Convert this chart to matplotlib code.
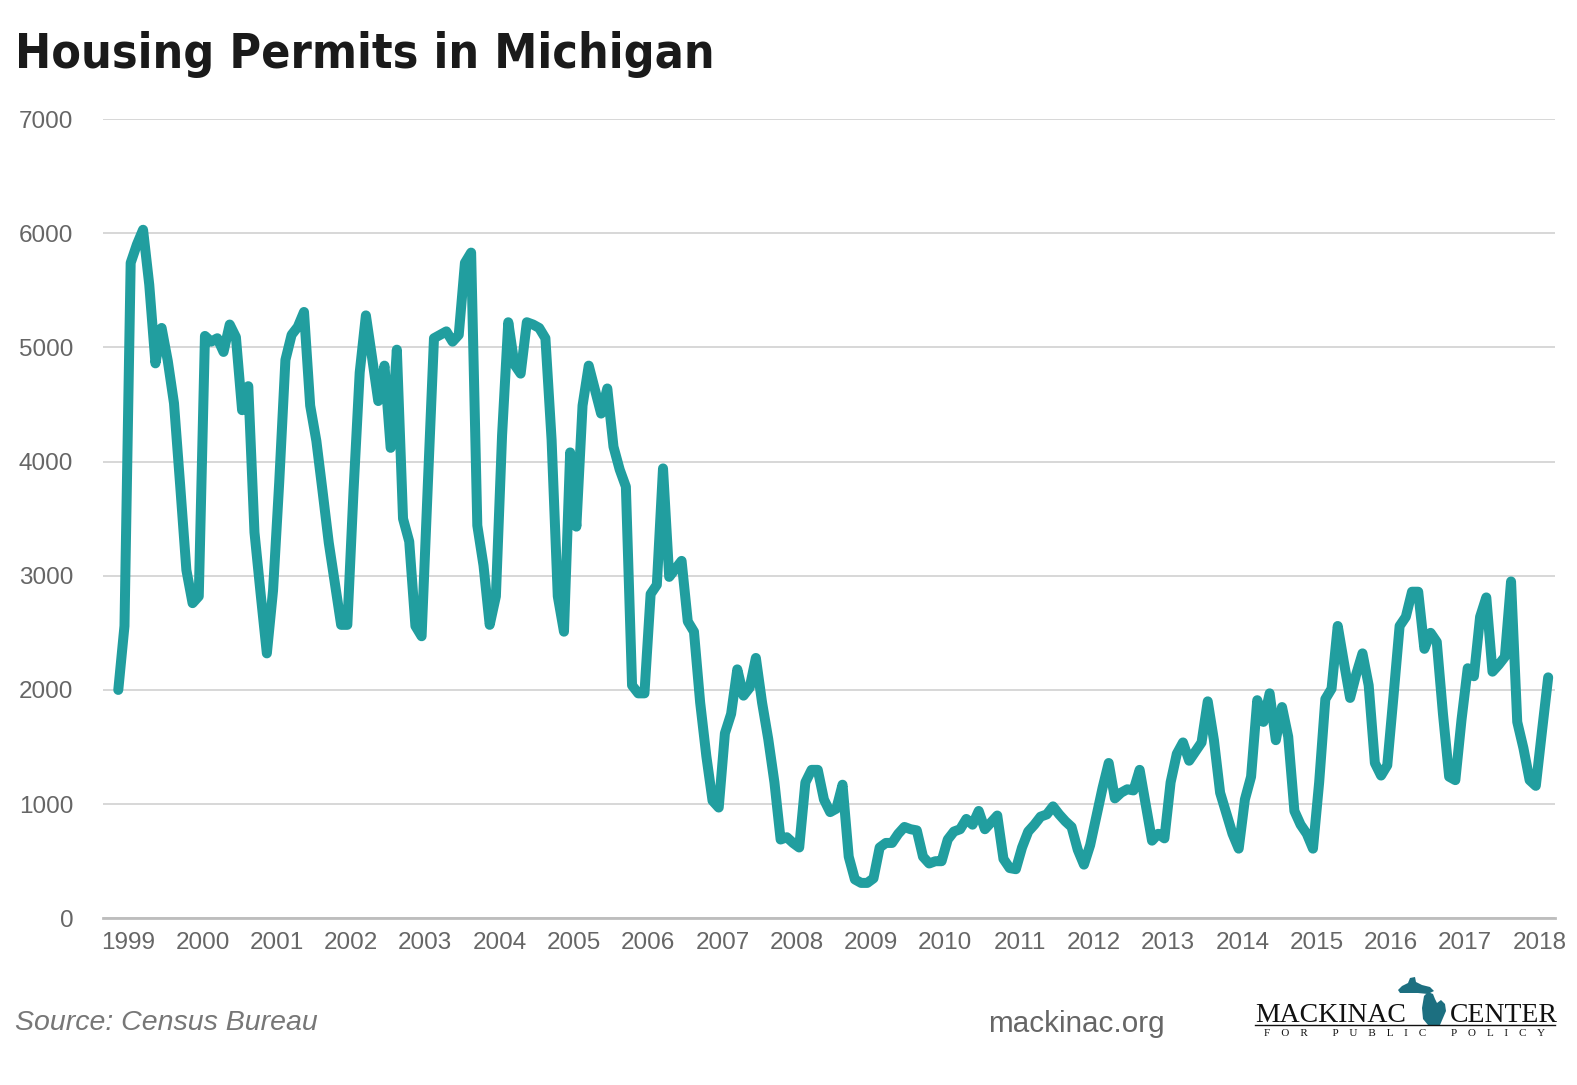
import numpy as np
import pandas as pd
import matplotlib
matplotlib.use('Agg')
import matplotlib.pyplot as plt
from matplotlib import font_manager
from matplotlib.patches import Polygon
from matplotlib.lines import Line2D

# Dados: licencas mensais (jan 1999 - abr 2018)
p1999 = [2000, 2560, 5740, 5900, 6030, 5550, 4860, 5170, 4880, 4510, 3790, 3050]
p2000 = [2760, 2820, 5100, 5050, 5080, 4960, 5200, 5090, 4450, 4660, 3380, 2840]
p2001 = [2320, 2870, 3820, 4890, 5110, 5180, 5310, 4490, 4180, 3740, 3290, 2930]
p2002 = [2570, 2570, 3740, 4780, 5280, 4910, 4530, 4840, 4120, 4980, 3500, 3300]
p2003 = [2560, 2470, 3790, 5080, 5110, 5140, 5050, 5110, 5740, 5830, 3440, 3090]
p2004 = [2570, 2820, 4230, 5220, 4850, 4770, 5220, 5200, 5170, 5080, 4190, 2820]
p2005 = [2510, 4080, 3430, 4490, 4840, 4630, 4420, 4640, 4130, 3930, 3780, 2040]
p2006 = [1970, 1970, 2840, 2920, 3940, 2990, 3060, 3130, 2600, 2510, 1890, 1420]
p2007 = [1030, 970, 1620, 1790, 2180, 1950, 2020, 2280, 1890, 1570, 1190, 690]
p2008 = [710, 660, 620, 1190, 1300, 1300, 1040, 930, 960, 1170, 540, 340]
p2009 = [310, 310, 350, 620, 660, 660, 740, 800, 780, 770, 540, 480]
p2010 = [500, 500, 690, 760, 780, 870, 820, 940, 780, 840, 900, 520]
p2011 = [440, 430, 620, 760, 820, 890, 910, 980, 910, 850, 800, 600]
p2012 = [470, 640, 890, 1140, 1360, 1050, 1100, 1130, 1120, 1300, 990, 680]
p2013 = [740, 700, 1190, 1440, 1540, 1380, 1460, 1540, 1900, 1560, 1100, 920]
p2014 = [740, 610, 1040, 1240, 1910, 1720, 1970, 1560, 1850, 1590, 940, 820]
p2015 = [740, 610, 1190, 1920, 2010, 2560, 2240, 1930, 2140, 2320, 2040, 1360]
p2016 = [1250, 1340, 1940, 2560, 2640, 2860, 2860, 2360, 2500, 2420, 1790, 1240]
p2017 = [1210, 1740, 2190, 2120, 2640, 2810, 2160, 2220, 2290, 2950, 1720, 1490]
p2018 = [1210, 1160, 1640, 2110]

anos = list(range(1999, 2019))
permits = (p1999 + p2000 + p2001 + p2002 + p2003 + p2004 + p2005 + p2006 + p2007 + p2008
           + p2009 + p2010 + p2011 + p2012 + p2013 + p2014 + p2015 + p2016 + p2017 + p2018)
meses = pd.date_range('1999-01-01', periods=len(permits), freq='MS')
df = pd.DataFrame({'mes': meses, 'permits': permits})

W, H = 1577, 1085
fig = plt.figure(figsize=(W / 100, H / 100), dpi=100)
fig.patch.set_facecolor('white')

# Eixo principal
ax = fig.add_axes([103 / W, 1 - 918.3 / H, (1555 - 103) / W, (918.3 - 119) / H])
x = np.arange(len(df))
ax.plot(x, df['permits'], color='#219e9f', lw=7.2, solid_capstyle='round',
        solid_joinstyle='round', zorder=3, clip_on=False)
ax.set_xlim(-2.47, 232.1)
ax.set_ylim(0, 7000)
ax.set_yticks(range(0, 7001, 1000))
ax.yaxis.grid(True, color='#d4d4d4', lw=1.3)
ax.set_axisbelow(True)
for s in ['top', 'right', 'left']:
    ax.spines[s].set_visible(False)
ax.spines['bottom'].set_color('#bdbdbd')
ax.spines['bottom'].set_linewidth(2)
ax.set_xticks([12 * k + 1.6 for k in range(len(anos))])
ax.set_xticklabels([str(a) for a in anos])
fonte = ['Liberation Sans', 'DejaVu Sans']
ax.tick_params(axis='both', length=0, labelcolor='#666666', labelsize=17.5)
ax.tick_params(axis='y', pad=21.5)
ax.tick_params(axis='x', pad=10)
for lab in ax.get_xticklabels() + ax.get_yticklabels():
    lab.set_family(fonte)

# Titulo: procura uma fonte estreita em negrito, se houver
estreitas = []
for f in font_manager.fontManager.ttflist:
    nome = f.name + ' ' + str(f.stretch)
    if ('Narrow' in nome or 'ondensed' in nome) and str(f.weight) in ('bold', '700', '800', '900', 'heavy', 'black'):
        estreitas.append(f)
if estreitas:
    tprop = dict(family=[estreitas[0].name, 'DejaVu Sans'], fontweight='bold',
                 fontstretch=estreitas[0].stretch)
else:
    tprop = dict(family=['Liberation Sans', 'DejaVu Sans'], fontweight='bold')
titulo = fig.text(15 / W, 1 - 67.5 / H, 'Housing Permits in Michigan', fontsize=43,
                  color='#1a1a1a', va='baseline', ha='left', **tprop)
fig.canvas.draw()
larg = titulo.get_window_extent(fig.canvas.get_renderer()).width
if larg > 700:
    titulo.set_fontsize(43 * 700 / larg)

# Rodape
fig.text(15 / W, 1 - 1030 / H, 'Source: Census Bureau', fontsize=20.5, style='italic',
         family=fonte, color='#777777', va='baseline', ha='left')
fig.text(988 / W, 1 - 1032 / H, 'mackinac.org', fontsize=21.3,
         family=fonte, color='#666666', va='baseline', ha='left')

# Logo
serif = ['Liberation Serif', 'DejaVu Serif']
fig.text(1255 / W, 1 - 1021.5 / H, 'MACKINAC', fontsize=20, family=serif,
         color='#111111', va='baseline', ha='left')
fig.text(1450 / W, 1 - 1021.5 / H, 'CENTER', fontsize=20, family=serif,
         color='#111111', va='baseline', ha='left')
fig.add_artist(Line2D([1255 / W, 1555 / W], [1 - 1025 / H, 1 - 1025 / H],
                      color='#111111', lw=1))
fig.text(1405 / W, 1 - 1036 / H,
         'F    O    R         P    U    B    L    I    C         P    O    L    I    C    Y',
         fontsize=8, family=serif, color='#111111', va='baseline', ha='center')
up = [(1398, 990), (1402, 986), (1408, 983), (1410, 978), (1415, 977), (1416, 982),
      (1422, 985), (1430, 987), (1434, 991), (1428, 994), (1418, 993), (1408, 993),
      (1400, 993)]
lp = [(1424, 996), (1428, 992), (1433, 994), (1435, 999), (1437, 1003), (1441, 1000),
      (1445, 1004), (1446, 1011), (1443, 1018), (1440, 1025), (1428, 1025), (1423, 1019),
      (1422, 1008)]
for shape in [up, lp]:
    fig.add_artist(Polygon([(px / W, 1 - py / H) for px, py in shape], closed=True,
                           facecolor='#1c6f80', edgecolor='none', transform=fig.transFigure))

fig.savefig('out.png', dpi=100, facecolor='white')
